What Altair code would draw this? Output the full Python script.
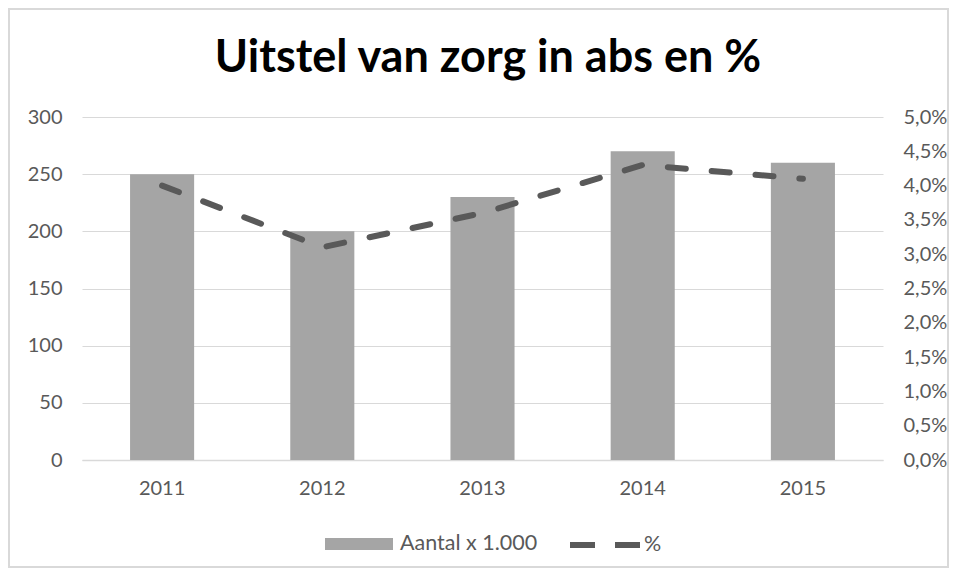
import altair as alt
import pandas as pd

years = ["2011", "2012", "2013", "2014", "2015"]
aantal = [250, 200, 230, 270, 260]
pct = [0.040, 0.031, 0.036, 0.043, 0.041]
left_ticks = [0, 50, 100, 150, 200, 250, 300]
right_ticks = [0.0, 0.005, 0.01, 0.015, 0.02, 0.025, 0.03, 0.035, 0.04, 0.045, 0.05]
bar_label = "Aantal x 1.000"
line_label = "%"
title_text = "Uitstel van zorg in abs en %"

df = pd.DataFrame({"jaar": years, "aantal": aantal, "pct": pct})
df["s_bar"] = bar_label
df["s_line"] = line_label

FONT = "Lato"
GRAY = "#595959"

x_enc = alt.X(
    "jaar:N",
    sort=years,
    scale=alt.Scale(paddingInner=0.6, paddingOuter=0.3),
    axis=alt.Axis(title=None, labelAngle=0, domainColor="#d9d9d9", domainWidth=1.5,
                  ticks=False, labelPadding=18, labelFontSize=20, labelColor=GRAY,
                  labelFont=FONT),
)

base = alt.Chart(df)

bars = base.mark_bar(color="#a5a5a5").encode(
    x=x_enc,
    y=alt.Y("aantal:Q", scale=alt.Scale(domain=[0, 300], nice=False),
            axis=alt.Axis(title=None, values=left_ticks, grid=True, gridColor="#d9d9d9",
                          domain=False, ticks=False, labelPadding=20, labelFontSize=20,
                          labelColor=GRAY, labelFont=FONT)),
    fill=alt.Fill("s_bar:N", scale=alt.Scale(domain=[bar_label], range=["#a5a5a5"]),
                  legend=alt.Legend(title=None, orient="none", legendX=243, legendY=393,
                                    symbolType="M-1,-0.18H1V0.18H-1Z", symbolSize=4624,
                                    symbolStrokeWidth=0, labelFontSize=21.5, labelColor=GRAY,
                                    labelFont=FONT, labelOffset=7)),
)

line = base.mark_line(strokeWidth=6, strokeDash=[18, 26], strokeCap="round").encode(
    x=x_enc,
    y=alt.Y("pct:Q", scale=alt.Scale(domain=[0, 0.05], nice=False),
            axis=alt.Axis(title=None, orient="right", values=right_ticks, grid=False,
                          domain=False, ticks=False, labelPadding=20, labelFontSize=20,
                          labelColor=GRAY, labelFont=FONT,
                          labelExpr="replace(format(datum.value, '.1%'), '.', ',')")),
    stroke=alt.Stroke("s_line:N", scale=alt.Scale(domain=[line_label], range=[GRAY]),
                      legend=alt.Legend(title=None, orient="none", legendX=485, legendY=390,
                                        symbolType="stroke", symbolSize=4900,
                                        symbolStrokeWidth=6, symbolDash=[25, 20],
                                        labelFontSize=21.5, labelColor=GRAY, labelFont=FONT,
                                        labelOffset=1)),
)

title = alt.Chart(pd.DataFrame({"t": [title_text]})).mark_text(
    font=FONT, fontWeight="bold", fontSize=45, color="black",
    align="center", baseline="alphabetic"
).encode(text="t:N", x=alt.value(406), y=alt.value(-45))

border = alt.Chart(pd.DataFrame({"b": [0]})).mark_rect(
    fill=None, stroke="#d9d9d9", strokeWidth=2
).encode(
    x=alt.value(-73), x2=alt.value(866), y=alt.value(-108), y2=alt.value(450)
)

chart = alt.layer(bars, line, title, border).resolve_scale(
    y="independent", fill="independent", stroke="independent"
).properties(
    width=801,
    height=343,
    padding={"left": 74, "top": 109, "right": 66, "bottom": 108},
    autosize=alt.AutoSizeParams(type="none"),
).configure_view(stroke=None)

chart.save("out.html", embed_options={"renderer": "svg", "actions": False})
